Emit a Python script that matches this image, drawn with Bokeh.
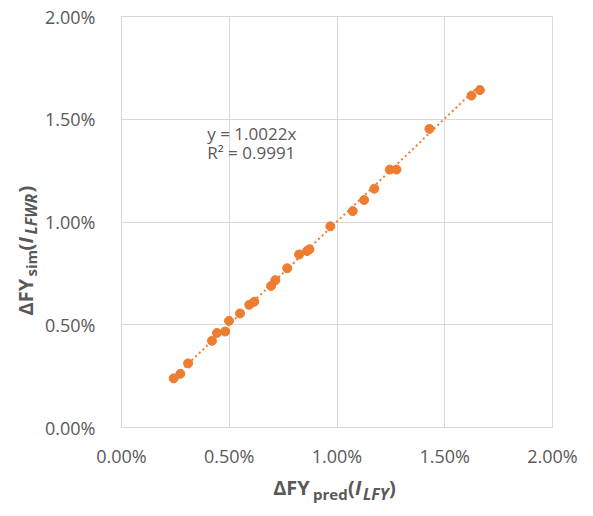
from bokeh.plotting import figure
from bokeh.layouts import row, column
from bokeh.models import Label, FixedTicker, NumeralTickFormatter, Range1d
from bokeh.embed import file_html
from bokeh.resources import INLINE
import math

# ---- data (percent values) ----
x_pred = [0.242, 0.273, 0.309, 0.420, 0.443, 0.481, 0.499, 0.550, 0.593, 0.616,
          0.694, 0.714, 0.769, 0.824, 0.861, 0.872, 0.969, 1.073, 1.126, 1.173,
          1.245, 1.276, 1.429, 1.624, 1.663]
y_sim = [0.239, 0.261, 0.312, 0.422, 0.460, 0.467, 0.519, 0.555, 0.597, 0.612,
         0.689, 0.717, 0.775, 0.842, 0.859, 0.867, 0.979, 1.053, 1.107, 1.162,
         1.255, 1.255, 1.453, 1.615, 1.642]
slope = 1.0022
r2 = 0.9991
tick_values = [0.0, 0.5, 1.0, 1.5, 2.0]

ORANGE = "#ED7D31"
GRID = "#D9D9D9"
TXT = "#595959"
FONT = "Open Sans"

xs = [v / 100 for v in x_pred]
ys = [v / 100 for v in y_sim]
ticks = [v / 100 for v in tick_values]

# layout geometry (image pixels): frame x 120..552, y 16..427
YW = 42
BL, BR, BT, BB = 78, 33, 16, 44
W_MAIN = BL + 432 + BR
H_MAIN = BT + 411 + BB
XH = 42

p = figure(width=W_MAIN, height=H_MAIN, output_backend="svg", toolbar_location=None,
           x_range=Range1d(ticks[0], ticks[-1]), y_range=Range1d(ticks[0], ticks[-1]),
           min_border_left=BL, min_border_right=BR, min_border_top=BT, min_border_bottom=BB)
p.background_fill_color = "white"
p.border_fill_color = "white"
p.outline_line_color = GRID

for ax in (p.xaxis[0], p.yaxis[0]):
    ax.ticker = FixedTicker(ticks=ticks)
    ax.formatter = NumeralTickFormatter(format="0.00%")
    ax.major_tick_line_color = None
    ax.minor_tick_line_color = None
    ax.axis_line_color = GRID
    ax.major_label_text_font = FONT
    ax.major_label_text_font_size = "18px"
    ax.major_label_text_color = TXT
p.xaxis.major_label_standoff = 10
p.yaxis.major_label_standoff = 20

for g in (p.xgrid[0], p.ygrid[0]):
    g.ticker = FixedTicker(ticks=ticks)
    g.grid_line_color = GRID
    g.grid_line_width = 1

# trendline y = slope * x over the data span
tx = [min(xs), max(xs)]
p.line(tx, [slope * v for v in tx], line_color=ORANGE, line_width=2, line_dash="2 3")
p.scatter(xs, ys, size=9, fill_color=ORANGE, line_color=ORANGE)


def dx(px):
    return (px - 120) / 432 * ticks[-1]


def dy(py):
    return (427 - py) / 411 * ticks[-1]


def lab(fig, text, x, y, size, bold=True, italic=False, angle=0.0):
    style = "normal"
    if bold and italic:
        style = "bold italic"
    elif bold:
        style = "bold"
    elif italic:
        style = "italic"
    fig.add_layout(Label(x=x, y=y, text=text, text_font=FONT,
                         text_font_size=f"{size}px", text_font_style=style,
                         text_color=TXT, text_baseline="alphabetic",
                         text_align="left", angle=angle))


# trendline equation
lab(p, f"y = {slope}x", dx(206), dy(133), 17, bold=False)
lab(p, f"R² = {r2}", dx(206), dy(152), 17, bold=False)


def strip(w, h, xr, yr, **borders):
    f = figure(width=w, height=h, output_backend="svg", toolbar_location=None,
               x_range=Range1d(*xr), y_range=Range1d(*yr),
               x_axis_location=None, y_axis_location=None, **borders)
    f.outline_line_color = None
    f.grid.visible = False
    f.background_fill_color = "white"
    f.border_fill_color = "white"
    return f


# x-axis title strip: same horizontal borders as the main plot, data x = image px
xf = strip(W_MAIN, XH, (120, 552), (427 + BB + XH, 427 + BB),
           min_border_left=BL, min_border_right=BR, min_border_top=0, min_border_bottom=0)
lab(xf, "ΔFY", 272, 487, 20)
lab(xf, "pred", 312, 493, 15)
lab(xf, "(", 347, 487, 20)
lab(xf, "I", 354, 487, 20, italic=True)
lab(xf, "LFY", 362, 493, 16, italic=True)
lab(xf, ")", 388, 487, 20)

# y-axis title strip: same vertical borders as the main plot, data y = image px
yf = strip(YW, H_MAIN, (0, YW), (427, 16),
           min_border_left=0, min_border_right=0, min_border_top=BT, min_border_bottom=BB)
a = math.pi / 2
lab(yf, "ΔFY", 25, 315, 20, angle=a)
lab(yf, "sim", 30, 276, 15, angle=a)
lab(yf, "(", 25, 250, 20, angle=a)
lab(yf, "I", 25, 243, 20, italic=True, angle=a)
lab(yf, "LFWR", 30, 234, 16, italic=True, angle=a)
lab(yf, ")", 25, 192, 20, angle=a)

layout = row(yf, column(p, xf))
open("out.html", "w").write(file_html(layout, INLINE))
